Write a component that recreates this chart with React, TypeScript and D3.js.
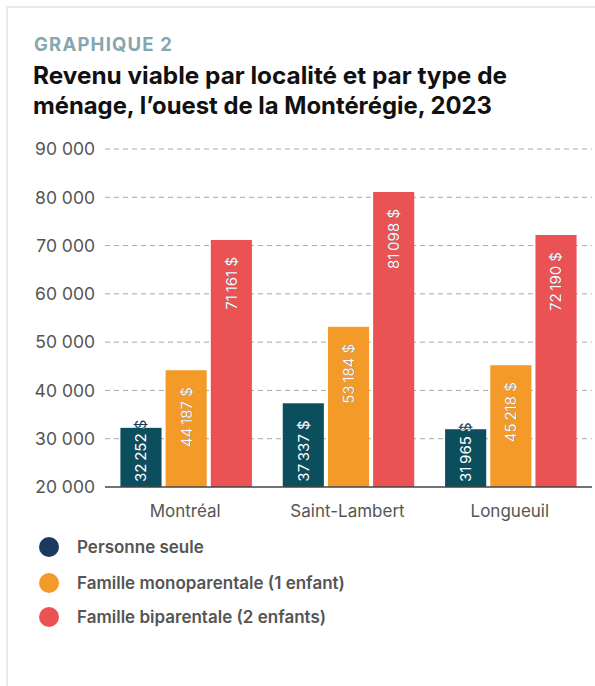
import React, { useEffect, useRef } from 'react';
import * as d3 from 'd3';

const categories = ['Montréal', 'Saint-Lambert', 'Longueuil'];
const seriesNames = ['Personne seule', 'Famille monoparentale (1 enfant)', 'Famille biparentale (2 enfants)'];
const personneSeule = [32252, 37337, 31965];
const monoparentale = [44187, 53184, 45218];
const biparentale = [71161, 81098, 72190];
const yTicks = [20000, 30000, 40000, 50000, 60000, 70000, 80000, 90000];

const barColors = ['#0b4f5f', '#f39a28', '#ea5254'];
const legendColors = ['#1c3a5e', '#f39a28', '#ea5254'];

const W = 595;
const H = 686;
const FONT = 'Inter, "Noto Sans", sans-serif';

const locale = d3.formatLocale({ decimal: ',', thousands: '\u00a0', grouping: [3], currency: ['', ' $'] });
const fmtTick = locale.format(',d');
const fmtValue = (v: number) => d3.format(',d')(v).replace(',', '\u202f') + '\u00a0$';

export default function App() {
  const svgRef = useRef<SVGSVGElement | null>(null);

  useEffect(() => {
    document.body.style.margin = '0';
    const svg = d3.select(svgRef.current);
    svg.selectAll('*').remove();

    const margin = { left: 105, right: 3, top: 149, bottom: 487 };
    const series = [personneSeule, monoparentale, biparentale];

    // frame
    svg.append('line').attr('x1', 6).attr('x2', W).attr('y1', 7).attr('y2', 7)
      .attr('stroke', '#e3ebed').attr('stroke-width', 2);
    svg.append('line').attr('x1', 7).attr('x2', 7).attr('y1', 6).attr('y2', H)
      .attr('stroke', '#e3ebed').attr('stroke-width', 2);

    // titles
    svg.append('text').attr('x', 34).attr('y', 51).text('GRAPHIQUE 2')
      .attr('font-family', FONT).attr('font-weight', 700).attr('font-size', 18.5)
      .attr('textLength', 138).attr('lengthAdjust', 'spacing').attr('fill', '#86a7ad');
    const titleLines = ['Revenu viable par localité et par type de', 'ménage, l’ouest de la Montérégie, 2023'];
    const titleWidths = [474, 459];
    titleLines.forEach((t, i) => {
      svg.append('text').attr('x', 33).attr('y', 84 + i * 30).text(t)
        .attr('font-family', FONT).attr('font-weight', 700).attr('font-size', 24)
        .attr('textLength', titleWidths[i]).attr('lengthAdjust', 'spacingAndGlyphs')
        .attr('fill', '#111');
    });

    const y = d3.scaleLinear().domain([20000, 90000]).range([margin.bottom, margin.top]);
    const x0 = d3.scaleBand().domain(categories).range([margin.left, W - margin.right])
      .paddingInner(0.19).paddingOuter(0.095);
    const x1 = d3.scaleBand().domain(d3.range(3).map(String)).range([0, x0.bandwidth()])
      .paddingInner(0.09);

    // grid + ticks
    const g = svg.append('g');
    yTicks.forEach(t => {
      if (t !== 20000) {
        g.append('line').attr('x1', margin.left).attr('x2', W - margin.right)
          .attr('y1', y(t)).attr('y2', y(t))
          .attr('stroke', '#a9a9a9').attr('stroke-width', 1).attr('stroke-dasharray', '5,4');
      }
      g.append('text').attr('x', 95).attr('y', y(t)).attr('dy', '0.36em')
        .attr('text-anchor', 'end').text(fmtTick(t))
        .attr('font-family', FONT).attr('font-size', 17.5).attr('fill', '#555');
    });

    const defs = svg.append('defs');
    const base = y(20000);

    categories.forEach((c, ci) => {
      series.forEach((s, si) => {
        const v = s[ci];
        const bx = (x0(c) as number) + (x1(String(si)) as number);
        const bw = x1.bandwidth();
        const top = y(v);
        const id = `clip-${ci}-${si}`;
        defs.append('clipPath').attr('id', id).append('rect')
          .attr('x', bx).attr('y', top).attr('width', bw).attr('height', base - top);
        svg.append('rect').attr('x', bx).attr('y', top).attr('width', bw).attr('height', base - top)
          .attr('fill', barColors[si]);

        // label: navy where it spills out of the bar, white inside it
        const cx = bx + bw / 2;
        const label = fmtValue(v);
        const mk = (parent: any, fill: string) => parent.append('text')
          .attr('font-family', FONT).attr('font-size', 15).attr('fill', fill)
          .attr('dy', '0.36em').text(label);
        const dark = mk(svg, '#1c3a5e');
        const clipG = svg.append('g').attr('clip-path', `url(#${id})`);
        const light = mk(clipG, '#fff');
        const len = (dark.node() as SVGTextElement).getComputedTextLength();
        let anchor = 'end';
        let ly = top + 17;
        if (ly + len > base - 5) {
          anchor = 'start';
          ly = base - 5;
        }
        [dark, light].forEach(t => t.attr('text-anchor', anchor)
          .attr('transform', `translate(${cx},${ly}) rotate(-90)`));
      });
      svg.append('text').attr('x', (x0(c) as number) + x0.bandwidth() / 2 - 1).attr('y', 517)
        .attr('text-anchor', 'middle').text(c)
        .attr('font-family', FONT).attr('font-size', 17).attr('fill', '#555');
    });

    // axis baseline
    svg.append('line').attr('x1', margin.left).attr('x2', W - margin.right)
      .attr('y1', base).attr('y2', base).attr('stroke', '#444').attr('stroke-width', 1.5);

    // legend
    const legendY = [547, 583, 617];
    seriesNames.forEach((n, i) => {
      svg.append('circle').attr('cx', 49).attr('cy', legendY[i]).attr('r', 10)
        .attr('fill', legendColors[i]);
      svg.append('text').attr('x', 77).attr('y', legendY[i]).attr('dy', '0.36em').text(n)
        .attr('font-family', FONT).attr('font-weight', 600).attr('font-size', 17)
        .attr('fill', '#555');
    });
  }, []);

  return <svg ref={svgRef} width={W} height={H} style={{ display: 'block', background: '#fff' }} />;
}
